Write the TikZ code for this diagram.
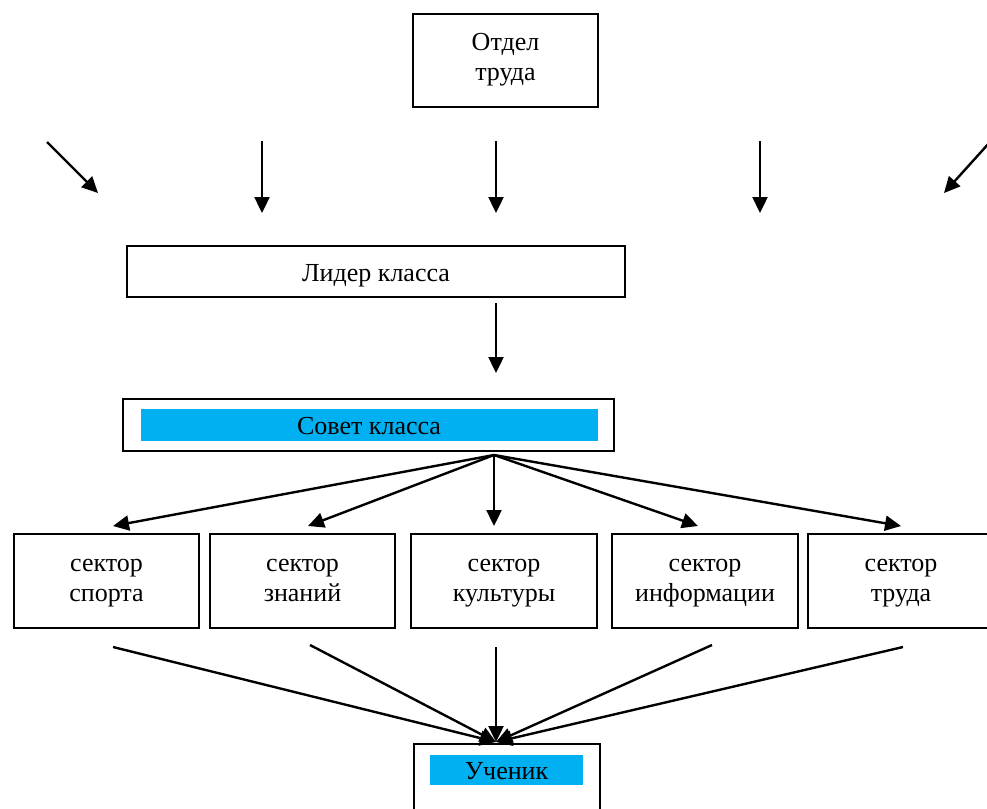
\documentclass[tikz,border=0pt]{standalone}
\usepackage{fontspec}
\setmainfont{Liberation Serif}
\usetikzlibrary{arrows.meta}
\definecolor{cyanfill}{HTML}{00B0F0}
\tikzset{
  frame/.style={draw=black, line width=2pt},
  arr/.style={line width=2.4pt, -{Triangle[length=16pt,width=15pt]}},
  lbl/.style={inner sep=0pt, anchor=base, font=\fontsize{26}{30}\selectfont}
}
\begin{document}
\begin{tikzpicture}[x=1pt,y=-1pt]
\useasboundingbox (0,0) rectangle (987,808);
\fill[white] (0,0) rectangle (987,808);
% Top box
\draw[frame] (413,14) rectangle (598,107);
\node[lbl] (otdel1) at (505.5,51) {Отдел};
\node[lbl] (otdel2) at (505.5,80) {труда};
% Top arrows
\coordinate (a1s) at (47,142); \coordinate (a1e) at (98,193);
\coordinate (a2s) at (262,141); \coordinate (a2e) at (262,213);
\coordinate (a3s) at (496,141); \coordinate (a3e) at (496,213);
\coordinate (a4s) at (760,141); \coordinate (a4e) at (760,213);
\coordinate (a5s) at (990,142); \coordinate (a5e) at (944,193);
\draw[arr] (a1s) -- (a1e);
\draw[arr] (a2s) -- (a2e);
\draw[arr] (a3s) -- (a3e);
\draw[arr] (a4s) -- (a4e);
\draw[arr] (a5s) -- (a5e);
% Leader
\draw[frame] (127,246) rectangle (625,297);
\node[lbl] (lider) at (376,281) {Лидер класса};
\coordinate (l1) at (496,303);
\coordinate (l2) at (496,373);
\draw[arr] (l1) -- (l2);
% Council
\draw[frame] (123,399) rectangle (614,451);
\fill[cyanfill] (141,409) rectangle (598,441);
\node[lbl] (sovet) at (369,434) {Совет класса};
\coordinate (hub) at (494,455);
% Sectors
\draw[frame] (14,534) rectangle (199,628);
\draw[frame] (210,534) rectangle (395,628);
\draw[frame] (411,534) rectangle (597,628);
\draw[frame] (612,534) rectangle (798,628);
\draw[frame] (808,534) rectangle (995,628);
\node[lbl] (s1a) at (106.5,571) {сектор};
\node[lbl] (s1b) at (106.5,601) {спорта};
\node[lbl] (s2a) at (302.5,571) {сектор};
\node[lbl] (s2b) at (302.5,601) {знаний};
\node[lbl] (s3a) at (504,571) {сектор};
\node[lbl] (s3b) at (504,601) {культуры};
\node[lbl] (s4a) at (705,571) {сектор};
\node[lbl] (s4b) at (705,601) {информации};
\node[lbl] (s5a) at (901,571) {сектор};
\node[lbl] (s5b) at (901,601) {труда};
\coordinate (t1) at (113,526); \coordinate (t2) at (308,526);
\coordinate (t3) at (494,526); \coordinate (t4) at (698,526);
\coordinate (t5) at (901,526);
\foreach \t in {t1,t2,t3,t4,t5} \draw[arr] (hub) -- (\t);
% bottom arrows
\coordinate (b1) at (113,647); \coordinate (b2) at (310,645);
\coordinate (b3) at (496,647); \coordinate (b4) at (712,645);
\coordinate (b5) at (903,647);
\coordinate (sink) at (496,742);
\foreach \b in {b1,b2,b3,b4,b5} \draw[arr] (\b) -- (sink);
% Student
\draw[frame] (414,744) rectangle (600,830);
\fill[cyanfill] (430,755) rectangle (583,785);
\node[lbl] (uchenik) at (506.5,779) {Ученик};
\end{tikzpicture}
\end{document}
